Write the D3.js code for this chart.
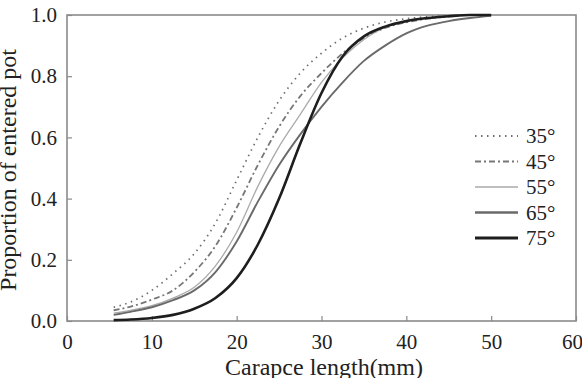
<!DOCTYPE html>
<html>
<head>
<meta charset="utf-8">
<script src="https://cdn.jsdelivr.net/npm/d3@7"></script>
<style>
body { margin: 0; background: #fff; }
text { font-family: "Liberation Serif", "Times New Roman", serif; fill: #222; }
</style>
</head>
<body>
<svg width="582" height="378"></svg>
<script>
// carapace length (mm) sample points
var lengths = [5.5, 7.5, 10, 12.5, 15, 17.5, 20, 22.5, 25, 27.5, 30, 32.5, 35, 37.5, 40, 42.5, 45, 47.5, 50];

var p35 = [0.045, 0.062, 0.10, 0.155, 0.22, 0.32, 0.46, 0.60, 0.72, 0.81, 0.875, 0.925, 0.957, 0.977, 0.988, 0.994, 0.998, 1.0, 1.0];
var p45 = [0.035, 0.047, 0.07, 0.10, 0.16, 0.245, 0.37, 0.51, 0.635, 0.735, 0.81, 0.875, 0.925, 0.958, 0.976, 0.988, 0.995, 1.0, 1.0];
var p55 = [0.026, 0.035, 0.05, 0.075, 0.11, 0.18, 0.29, 0.44, 0.57, 0.675, 0.78, 0.86, 0.92, 0.96, 0.98, 0.99, 0.996, 1.0, 1.0];
var p65 = [0.02, 0.03, 0.045, 0.068, 0.10, 0.16, 0.26, 0.39, 0.51, 0.61, 0.70, 0.78, 0.85, 0.90, 0.94, 0.965, 0.98, 0.99, 0.997];
var p75 = [0.003, 0.005, 0.01, 0.02, 0.04, 0.075, 0.14, 0.25, 0.40, 0.58, 0.745, 0.865, 0.93, 0.962, 0.98, 0.99, 0.996, 1.0, 1.0];

var seriesNames = ['35°', '45°', '55°', '65°', '75°'];
var seriesValues = [p35, p45, p55, p65, p75];

var xTicks = [0, 10, 20, 30, 40, 50, 60];
var yTicks = [0, 0.2, 0.4, 0.6, 0.8, 1.0];

// line looks for each series
var styles = [
    {stroke: '#6f6f6f', width: 1.7, dash: '1.5,4.5'},
    {stroke: '#777', width: 1.8, dash: '6,3,2,3'},
    {stroke: '#aaa', width: 1.3, dash: null},
    {stroke: '#6a6a6a', width: 1.9, dash: null},
    {stroke: '#1e1e1e', width: 2.6, dash: null}
];

var serif = '"Liberation Serif", "Times New Roman", serif';

var svg = d3.select('svg');

var xScale = d3.scaleLinear().domain([0, 60]).range([67, 576]);
var yScale = d3.scaleLinear().domain([0, 1]).range([321, 15]);

// frame
svg.append('rect')
    .attr('x', xScale(0)).attr('y', yScale(1))
    .attr('width', xScale(60) - xScale(0))
    .attr('height', yScale(0) - yScale(1))
    .attr('fill', 'none')
    .attr('stroke', '#8a8a8a')
    .attr('stroke-width', 1.6);

var xAxis = svg.append('g')
    .attr('transform', 'translate(0,' + yScale(0) + ')')
    .call(d3.axisBottom(xScale).tickValues(xTicks).tickSizeInner(-5).tickSizeOuter(0).tickPadding(13).tickFormat(d3.format('d')));

var yAxis = svg.append('g')
    .attr('transform', 'translate(' + xScale(0) + ',0)')
    .call(d3.axisLeft(yScale).tickValues(yTicks).tickSizeInner(-5).tickSizeOuter(0).tickPadding(10).tickFormat(d3.format('.1f')));

[xAxis, yAxis].forEach(function(ax) {
    ax.attr('font-family', serif).attr('font-size', 21);
    ax.select('.domain').remove();
    ax.selectAll('line').attr('stroke', '#8a8a8a').attr('stroke-width', 1.2);
    ax.selectAll('text').attr('fill', '#222');
});

// last label sits against the page edge
xAxis.selectAll('.tick text')
    .filter(function(d) { return d === 60; })
    .attr('dx', -4);

var line = d3.line()
    .x(function(d) { return xScale(d[0]); })
    .y(function(d) { return yScale(d[1]); })
    .curve(d3.curveMonotoneX);

seriesValues.forEach(function(vals, i) {
    var pts = lengths.map(function(x, j) { return [x, vals[j]]; });
    svg.append('path')
        .datum(pts)
        .attr('d', line)
        .attr('fill', 'none')
        .attr('stroke', styles[i].stroke)
        .attr('stroke-width', styles[i].width)
        .attr('stroke-dasharray', styles[i].dash);
});

// legend
var legend = svg.selectAll('.legend')
    .data(seriesNames)
    .enter()
    .append('g')
    .attr('transform', function(d, i) { return 'translate(475,' + (136 + i * 25.5) + ')'; });

legend.append('line')
    .attr('x1', 0).attr('x2', 43)
    .attr('stroke', function(d, i) { return styles[i].stroke; })
    .attr('stroke-width', function(d, i) { return styles[i].width + 0.4; })
    .attr('stroke-dasharray', function(d, i) { return styles[i].dash; });

legend.append('text')
    .attr('x', 51)
    .attr('dy', '0.35em')
    .attr('font-family', serif)
    .attr('font-size', 21)
    .text(function(d) { return d; });

// axis titles
svg.append('text')
    .attr('x', 324).attr('y', 375)
    .attr('text-anchor', 'middle')
    .attr('font-family', serif)
    .attr('font-size', 24)
    .text('Carapce length(mm)');

svg.append('text')
    .attr('transform', 'translate(16,170) rotate(-90)')
    .attr('text-anchor', 'middle')
    .attr('font-family', serif)
    .attr('font-size', 24)
    .text('Proportion of entered pot');
</script>
</body>
</html>
